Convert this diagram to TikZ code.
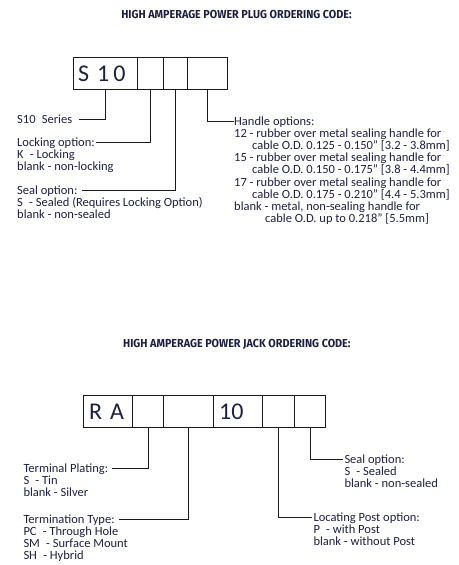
\documentclass[tikz,border=0pt]{standalone}
\usepackage{fontspec}
\setmainfont{Carlito}
\newfontfamily\titlefont{Fira Sans}
\definecolor{txt}{HTML}{1E2040}
\definecolor{ln}{HTML}{1A1A1A}
\begin{document}
\begin{tikzpicture}[x=1pt,y=-1pt,
  codebox/.style={draw=ln,line width=0.8pt,minimum height=32pt,inner sep=0pt,anchor=north west,text=txt},
  bigtxt/.style={align=left,font=\fontsize{24}{24}\selectfont},
  lbl/.style={font=\fontsize{12.5}{12.2}\selectfont,text=txt,inner sep=0pt,align=left},
  head/.style={lbl,anchor=base west},
  body/.style={lbl,anchor=base west},
  lead/.style={draw=ln,line width=0.8pt},
  ttl/.style={text=txt,inner sep=0pt,font=\titlefont\bfseries\fontsize{11.6}{12}\selectfont}]
\useasboundingbox (0,0) rectangle (458,565);
% titles
\node[ttl] (t1) at (236.5,14) {\scalebox{0.93}[1]{HIGH AMPERAGE POWER PLUG ORDERING CODE:}};
\node[ttl] (t2) at (236.8,344) {\scalebox{0.93}[1]{HIGH AMPERAGE POWER JACK ORDERING CODE:}};
% plug boxes
\node[codebox,bigtxt,minimum width=64pt,text width=60pt] (p1) at (73.3,57.3) {\hspace*{2.5pt}S\hspace{8pt}1\hspace{4pt}0};
\node[codebox,minimum width=25.4pt] (p2) at (137.3,57.3) {};
\node[codebox,minimum width=24.6pt] (p3) at (162.7,57.3) {};
\node[codebox,minimum width=39.4pt] (p4) at (187.3,57.3) {};
% plug labels (body nodes are anchored at the baseline of their last line)
\node[head] (h1) at (17,123) {S10\enspace Series};
\node[head] (h2) at (17,146.5) {Locking option:};
\node[body] (b2) at (17,170.9) {K\enspace- Locking\\blank - non-locking};
\node[head] (h3) at (17,194) {Seal option:};
\node[body] (b3) at (17,218.4) {S\enspace- Sealed (Requires Locking Option)\\blank - non-sealed};
\node[head] (h4) at (234,125) {Handle options:};
\node[body] (b4) at (234,222.6) {12 - rubber over metal sealing handle for\\
\hspace*{18pt}cable O.D. 0.125 - 0.150" [3.2 - 3.8mm]\\
15 - rubber over metal sealing handle for\\
\hspace*{18pt}cable O.D. 0.150 - 0.175" [3.8 - 4.4mm]\\
17 - rubber over metal sealing handle for\\
\hspace*{18pt}cable O.D. 0.175 - 0.210" [4.4 - 5.3mm]\\
blank - metal, non-sealing handle for\\
\hspace*{31pt}cable O.D. up to 0.218" [5.5mm]};
% plug leaders
\coordinate (c1) at (79,119);
\draw[lead] (p1.south) |- (c1);
\draw[lead] (p2.south) |- ([xshift=1pt]h2.east |- 0,142.7);
\draw[lead] (p3.south) |- ([xshift=4pt]h3.east |- 0,190);
\draw[lead] (p4.south) |- ([xshift=-0.5pt]h4.west |- 0,121);
% jack boxes
\node[codebox,bigtxt,minimum width=49pt,text width=45pt] (j1) at (83.3,395.3) {\hspace*{3.5pt}R A};
\node[codebox,minimum width=31pt] (j2) at (132.3,395.3) {};
\node[codebox,minimum width=50pt] (j3) at (163.3,395.3) {};
\node[codebox,bigtxt,minimum width=49pt,text width=45pt] (j4) at (213.3,395.3) {\hspace*{3.5pt}10};
\node[codebox,minimum width=32pt] (j5) at (262.3,395.3) {};
\node[codebox,minimum width=31pt] (j6) at (294.3,395.3) {};
% jack labels
\node[head] (k1) at (23.3,472.3) {Terminal Plating:};
\node[body] (kb1) at (23.3,496.2) {S\enspace- Tin\\blank - Silver};
\node[head] (k2) at (23.3,523) {Termination Type:};
\node[body] (kb2) at (23.3,559.6) {PC\enspace- Through Hole\\SM\enspace- Surface Mount\\SH\enspace- Hybrid};
\node[head] (k3) at (313.3,521.3) {Locating Post option:};
\node[body] (kb3) at (313.3,545.3) {P\enspace- with Post\\blank - without Post};
\node[head] (k4) at (344.3,463.3) {Seal option:};
\node[body] (kb4) at (344.3,487.3) {S\enspace- Sealed\\blank - non-sealed};
% jack leaders
\draw[lead] (j2.south) |- ([xshift=4pt]k1.east |- 0,468.3);
\draw[lead] (j3.south) |- ([xshift=4pt]k2.east |- 0,519);
\draw[lead] (j5.south) |- ([xshift=-1.5pt]k3.west |- 0,517.3);
\draw[lead] (j6.south) |- ([xshift=-1pt]k4.west |- 0,459.3);
\end{tikzpicture}
\end{document}
